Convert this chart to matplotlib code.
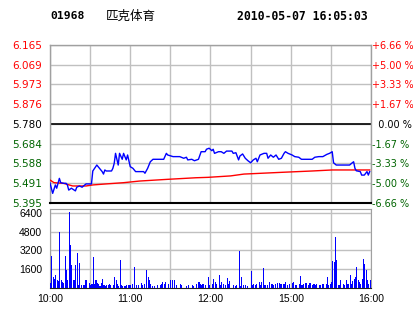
import matplotlib
matplotlib.use('Agg')
import matplotlib.pyplot as plt

code = "01968"
name = "匹克体育"
stamp = "2010-05-07 16:05:03"
prev_close = 5.780
price_ticks = [5.395, 5.491, 5.588, 5.684, 5.780, 5.876, 5.973, 6.069, 6.165]
price_labels = ["5.395", "5.491", "5.588", "5.684", "5.780", "5.876", "5.973", "6.069", "6.165"]
pct_labels = ["-6.66 %", "-5.00 %", "-3.33 %", "-1.67 %", "  0.00 %",
              "+1.67 %", "+3.33 %", "+5.00 %", "+6.66 %"]
vol_ticks = [1600, 3200, 4800, 6400]
vol_labels = ["1600", "3200", "4800", "6400"]
time_ticks = [0, 60, 120, 180, 240]
time_labels = ["10:00", "11:00", "12:00", "15:00", "16:00"]

# minute index (0 = 10:00, 240 = 16:00 on the compressed trading axis)
price_t = [0, 2, 4, 5, 7, 8, 10, 12, 13, 14, 16, 19, 20, 22, 24, 26, 27, 31, 32, 35,
           37, 39, 40, 41, 42, 46, 47, 48, 49, 51, 52, 54, 55, 57, 58, 60, 62, 64, 70, 71,
           73, 75, 77, 85, 87, 88, 92, 97, 100, 102, 103, 106, 108, 111, 113, 116, 117, 119, 121, 122,
           123, 126, 128, 130, 132, 136, 137, 139, 141, 142, 144, 146, 148, 150, 152, 154, 155, 157, 160, 162,
           163, 165, 167, 169, 171, 173, 175, 176, 178, 181, 183, 186, 188, 196, 198, 201, 204, 207, 209, 211,
           212, 214, 224, 226, 227, 228, 229, 232, 233, 235, 237, 238, 239]
price_v = [5.492, 5.442, 5.483, 5.467, 5.515, 5.494, 5.491, 5.491, 5.483, 5.458, 5.467, 5.454, 5.472, 5.478, 5.472, 5.483, 5.488, 5.488, 5.551, 5.580,
           5.564, 5.548, 5.536, 5.556, 5.551, 5.551, 5.564, 5.588, 5.637, 5.580, 5.637, 5.608, 5.637, 5.605, 5.629, 5.572, 5.564, 5.548, 5.548, 5.540,
           5.564, 5.596, 5.608, 5.608, 5.637, 5.629, 5.621, 5.621, 5.613, 5.618, 5.605, 5.608, 5.601, 5.608, 5.645, 5.645, 5.657, 5.662, 5.650, 5.657,
           5.637, 5.645, 5.645, 5.637, 5.648, 5.648, 5.637, 5.640, 5.605, 5.624, 5.634, 5.613, 5.601, 5.591, 5.605, 5.613, 5.596, 5.629, 5.637, 5.637,
           5.613, 5.629, 5.618, 5.629, 5.608, 5.613, 5.637, 5.645, 5.637, 5.629, 5.621, 5.618, 5.608, 5.608, 5.618, 5.621, 5.621, 5.632, 5.637, 5.645,
           5.591, 5.580, 5.580, 5.591, 5.596, 5.564, 5.552, 5.548, 5.531, 5.531, 5.548, 5.531, 5.548]

avg_t = [0, 3, 10, 17, 27, 32, 42, 55, 67, 87, 109, 118, 135, 145, 175, 196, 211, 239]
avg_v = [5.507, 5.494, 5.491, 5.478, 5.478, 5.483, 5.488, 5.494, 5.502, 5.510, 5.518, 5.520, 5.527, 5.536, 5.545, 5.551, 5.556, 5.556]

volume = [430, 2700, 900, 800, 1100, 650, 600, 4750, 700, 500,
          430, 2700, 1500, 650, 6450, 3700, 1930, 700, 650, 1930,
          3000, 230, 2150, 230, 0, 230, 650, 710, 0, 450,
          230, 370, 2640, 370, 710, 450, 370, 170, 430, 800,
          230, 170, 230, 280, 370, 230, 0, 230, 940, 650,
          370, 170, 2360, 230, 170, 170, 170, 230, 230, 230,
          230, 370, 0, 1790, 230, 0, 230, 0, 450, 230,
          370, 0, 1500, 940, 650, 370, 170, 0, 170, 0,
          230, 0, 280, 370, 510, 370, 510, 0, 370, 0,
          710, 650, 0, 710, 230, 0, 0, 370, 230, 0,
          0, 0, 170, 230, 0, 0, 280, 170, 0, 370,
          0, 510, 310, 230, 370, 0, 230, 0, 940, 230,
          0, 370, 740, 510, 370, 0, 1140, 230, 510, 370,
          0, 230, 850, 370, 600, 0, 0, 230, 170, 230,
          0, 3150, 170, 940, 230, 0, 230, 170, 0, 0,
          1450, 230, 370, 230, 370, 0, 510, 280, 510, 1700,
          230, 230, 230, 0, 510, 370, 370, 230, 370, 0,
          450, 450, 310, 310, 310, 310, 510, 230, 0, 370,
          0, 430, 510, 230, 280, 0, 370, 1020, 230, 370,
          0, 450, 0, 280, 430, 0, 280, 370, 230, 370,
          0, 230, 280, 370, 310, 0, 370, 940, 230, 370,
          510, 2270, 2215, 4350, 2430, 230, 280, 710, 0, 310,
          280, 710, 310, 310, 1080, 370, 600, 800, 940, 1790,
          650, 510, 310, 800, 2440, 2070, 1560, 650, 370, 710]

RED = '#ff0000'
GREEN = '#006400'
GRID = '#c0c0c0'
FRAME = '#a0a0a0'
BLUE = '#0000ff'

fig = plt.figure(figsize=(4.14, 3.14), dpi=100)
fig.patch.set_facecolor('white')
W, H = 414.0, 314.0

ax = fig.add_axes([50 / W, 1 - 203 / H, 321 / W, 158 / H])
axv = fig.add_axes([50 / W, 1 - 288 / H, 321 / W, 79 / H])

# ---- price panel ----
ax.set_xlim(0, 240)
ax.set_ylim(price_ticks[0], price_ticks[-1])
ax.set_xticks(list(range(0, 241, 30)))
ax.set_xticklabels([])
ax.set_yticks(price_ticks)
ax.set_yticklabels(price_labels, fontsize=7.5, family='DejaVu Sans')
ax.tick_params(length=0, pad=5.5)
ax.grid(True, color=GRID, lw=1)
ax.set_axisbelow(True)
for tl, v in zip(ax.get_yticklabels(), price_ticks):
    tl.set_color(RED if v > prev_close + 1e-9 else ('black' if abs(v - prev_close) < 1e-9 else GREEN))
for s in ['top', 'left', 'right']:
    ax.spines[s].set_color(FRAME)
    ax.spines[s].set_linewidth(1)
ax.spines['bottom'].set_color('black')
ax.spines['bottom'].set_linewidth(1.5)
ax.axhline(prev_close, color='black', lw=1.2, zorder=2)
ax.plot(avg_t, avg_v, color=RED, lw=1.0, zorder=3)
ax.plot(price_t, price_v, color=BLUE, lw=1.0, zorder=4)

ax2 = ax.twinx()
ax2.set_ylim(price_ticks[0], price_ticks[-1])
ax2.set_yticks(price_ticks)
ax2.set_yticklabels(pct_labels, fontsize=7, family='DejaVu Sans')
ax2.tick_params(length=0, pad=0.5)
for tl, v in zip(ax2.get_yticklabels(), price_ticks):
    tl.set_color(RED if v > prev_close + 1e-9 else ('black' if abs(v - prev_close) < 1e-9 else GREEN))
for s in ax2.spines.values():
    s.set_visible(False)

# ---- volume panel ----
axv.bar(range(len(volume)), volume, width=0.8, align='edge', color=BLUE, lw=0,
        antialiased=False, zorder=3)
axv.set_xlim(0, 240)
axv.set_ylim(0, 6741)
axv.set_xticks(list(range(0, 241, 30)))
axv.set_xticklabels([time_labels[time_ticks.index(t)] if t in time_ticks else '' for t in range(0, 241, 30)],
                    fontsize=7.5, family='Liberation Sans')
axv.set_yticks(vol_ticks)
axv.set_yticklabels(vol_labels, fontsize=7.5, family='Liberation Sans')
axv.tick_params(length=0)
axv.tick_params(axis='y', pad=5.5)
axv.tick_params(axis='x', pad=4)
axv.grid(True, color=GRID, lw=1)
axv.set_axisbelow(True)
for s in ['top', 'left', 'right']:
    axv.spines[s].set_color(FRAME)
axv.spines['bottom'].set_color('#202020')

# ---- header ----
fig.text(50 / W, 1 - 16 / H, code, fontsize=8.2, family='DejaVu Sans Mono', weight='bold', va='center')
fig.text(106 / W, 1 - 16 / H, name, fontsize=9, family=['Noto Sans CJK SC', 'DejaVu Sans'], va='center')
fig.text(237 / W, 1 - 16 / H, stamp, fontsize=8.3, family='DejaVu Sans Mono', weight='bold', va='center')

fig.savefig('out.png', dpi=100, facecolor='white')
